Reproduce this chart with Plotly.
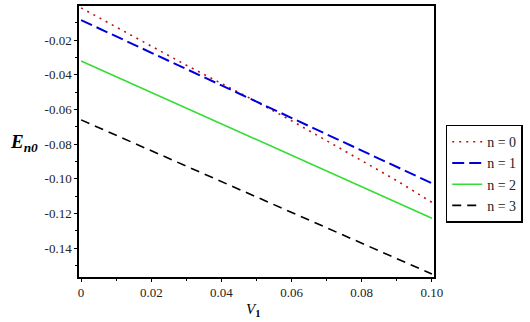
import plotly.graph_objects as go

v1 = [0.0, 0.01, 0.02, 0.03, 0.04, 0.05, 0.06, 0.07, 0.08, 0.09, 0.10]
e_n0 = [-0.0015, -0.0125, -0.0235, -0.0345, -0.0450, -0.0555, -0.0665, -0.0780, -0.0895, -0.1010, -0.1135]
e_n1 = [-0.0085, -0.0179, -0.0273, -0.0367, -0.0461, -0.0555, -0.0649, -0.0743, -0.0837, -0.0931, -0.1025]
e_n2 = [-0.0321, -0.0411, -0.0502, -0.0592, -0.0683, -0.0773, -0.0864, -0.0954, -0.1045, -0.1135, -0.1226]
e_n3 = [-0.0660, -0.0749, -0.0838, -0.0926, -0.1015, -0.1104, -0.1193, -0.1282, -0.1370, -0.1459, -0.1548]

names = ["n = 0", "n = 1", "n = 2", "n = 3"]
xtick_vals = [0, 0.02, 0.04, 0.06, 0.08, 0.10]
xtick_text = ["0", "0.02", "0.04", "0.06", "0.08", "0.10"]
ytick_vals = [-0.02, -0.04, -0.06, -0.08, -0.10, -0.12, -0.14]
ytick_text = ["-0.02", "-0.04", "-0.06", "-0.08", "-0.10", "-0.12", "-0.14"]

styles = [
    dict(color="#c01010", width=1.6, dash="2px,5px"),
    dict(color="#0000dd", width=2, dash="12px,5px"),
    dict(color="#33dd33", width=1.6, dash="solid"),
    dict(color="#000000", width=1.6, dash="9px,6px"),
]

fig = go.Figure()
for ys, nm, st in zip([e_n0, e_n1, e_n2, e_n3], names, styles):
    fig.add_trace(go.Scatter(x=v1, y=ys, mode="lines", name=nm, line=st))

font = "Liberation Serif, Times New Roman, serif"
axis_common = dict(
    showgrid=False, zeroline=False, showline=True, linecolor="black", linewidth=1.5,
    mirror=True, ticks="outside", ticklen=3, tickwidth=1, tickcolor="black",
    tickfont=dict(family=font, size=13, color="#222222"),
    minor=dict(ticks="outside", ticklen=2, tickcolor="black", dtick=0.01),
)

fig.update_layout(
    width=530, height=322,
    margin=dict(l=79, r=96, t=6, b=45, autoexpand=False),
    paper_bgcolor="white", plot_bgcolor="white",
    font=dict(family=font, size=12, color="black"),
    xaxis=dict(range=[-0.0006, 0.1006], tickvals=xtick_vals, ticktext=xtick_text, **axis_common),
    yaxis=dict(range=[-0.1565, -0.0004], tickvals=ytick_vals, ticktext=ytick_text, **axis_common),
    legend=dict(
        x=1.033, xanchor="left", y=0.562, yanchor="top",
        bordercolor="black", borderwidth=1.5, bgcolor="white",
        font=dict(family=font, size=14, color="#222222"),
        tracegroupgap=0, itemwidth=30,
    ),
    showlegend=True,
)

fig.add_annotation(
    xref="paper", yref="paper", x=-0.155, y=0.495, xanchor="center", yanchor="middle",
    text="<b><i>E<sub>n0</sub></i></b>", showarrow=False,
    font=dict(family=font, size=19, color="black"),
)
fig.add_annotation(
    xref="paper", yref="paper", x=0.49, y=-0.08, xanchor="center", yanchor="top",
    text="<i>V</i><sub><b>1</b></sub>", showarrow=False,
    font=dict(family=font, size=15, color="black"),
)

fig.write_html(
    "out.html",
    config={"displayModeBar": False},
    post_script="document.body.style.margin='0';document.body.style.padding='0';",
)
